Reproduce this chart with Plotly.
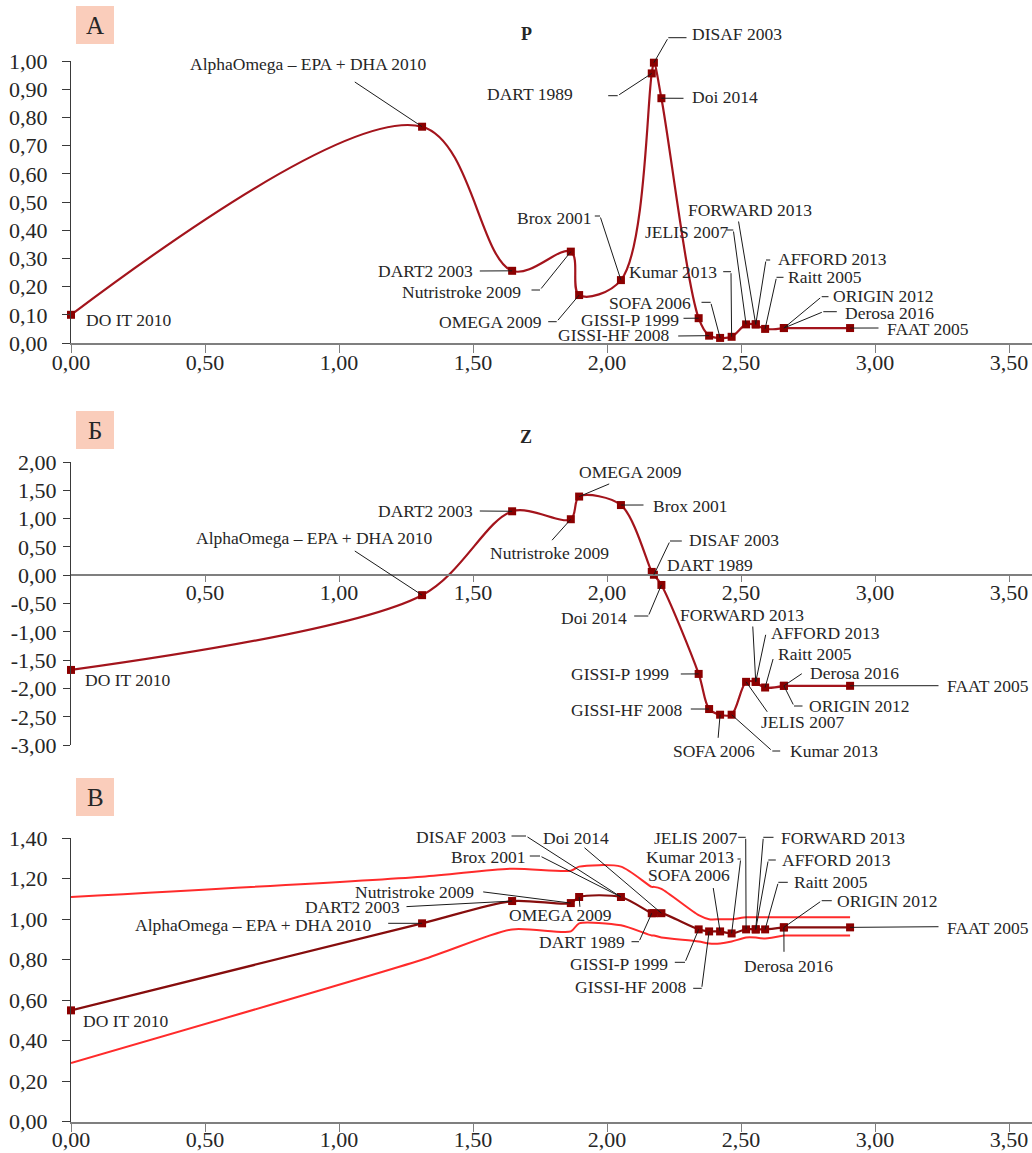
import plotly.graph_objects as go

# ---------------- data ----------------
studies = [
    "DO IT 2010", "AlphaOmega – EPA + DHA 2010", "DART2 2003", "Nutristroke 2009",
    "OMEGA 2009", "Brox 2001", "DART 1989", "DISAF 2003", "Doi 2014", "GISSI-P 1999",
    "GISSI-HF 2008", "SOFA 2006", "Kumar 2013", "JELIS 2007", "FORWARD 2013",
    "AFFORD 2013", "Raitt 2005", "ORIGIN 2012", "Derosa 2016", "FAAT 2005",
]
cum_x = [0.00, 1.31, 1.646, 1.865, 1.896, 2.052, 2.167, 2.175, 2.203, 2.342,
         2.381, 2.422, 2.465, 2.519, 2.555, 2.555, 2.59, 2.66, 2.66, 2.907]
p_values = [0.10, 0.767, 0.256, 0.324, 0.170, 0.223, 0.956, 0.994, 0.868, 0.088,
            0.026, 0.018, 0.022, 0.066, 0.066, 0.066, 0.050, 0.053, 0.053, 0.053]
z_scores = [-1.67, -0.35, 1.13, 0.99, 1.39, 1.24, 0.06, 0.01, -0.17, -1.74,
            -2.36, -2.46, -2.46, -1.88, -1.88, -1.88, -1.98, -1.95, -1.95, -1.95]
rr = [0.55, 0.98, 1.09, 1.08, 1.11, 1.11, 1.03, 1.03, 1.03, 0.95,
      0.94, 0.94, 0.93, 0.95, 0.95, 0.95, 0.95, 0.96, 0.96, 0.96]
rr_upper = [1.11, 1.21, 1.25, 1.24, 1.26, 1.26, 1.16, 1.16, 1.15, 1.02,
            1.00, 1.00, 1.00, 1.01, 1.01, 1.01, 1.01, 1.01, 1.01, 1.01]
rr_lower = [0.29, 0.80, 0.95, 0.94, 0.98, 0.97, 0.92, 0.92, 0.91, 0.89,
            0.88, 0.88, 0.89, 0.91, 0.91, 0.91, 0.905, 0.92, 0.92, 0.92]

x_ticks = [0.0, 0.5, 1.0, 1.5, 2.0, 2.5, 3.0, 3.5]
p_ticks = [0.0, 0.1, 0.2, 0.3, 0.4, 0.5, 0.6, 0.7, 0.8, 0.9, 1.0]
z_ticks = [-3.0, -2.5, -2.0, -1.5, -1.0, -0.5, 0.0, 0.5, 1.0, 1.5, 2.0]
rr_ticks = [0.0, 0.2, 0.4, 0.6, 0.8, 1.0, 1.2, 1.4]


def fmt(v):
    return f"{v:.2f}".replace(".", ",")


# ---------------- page geometry (pixels) ----------------
W, H = 1032, 1153
X0_PX, PX_PER_UNIT = 71.0, 268.0
X_MAX = (W - X0_PX) / PX_PER_UNIT

FONT = "Liberation Serif"
INK = "#262626"
LINE_DARK = "#a3141c"
LINE_RR = "#860d0d"
CI_RED = "#ff2b2b"
MARK = "#8b0000"

# panel key -> (top px, bottom px, range, axis ids)
panels = {
    "P": dict(top=61.0, bot=343.0, rng=(0.0, 1.0), xa="x", ya="y"),
    "Z": dict(top=462.0, bot=745.3, rng=(-3.0, 2.0), xa="x2", ya="y2"),
    "RR": dict(top=838.3, bot=1121.7, rng=(0.0, 1.4), xa="x3", ya="y3"),
}


def px_x(px):
    return (px - X0_PX) / PX_PER_UNIT


def px_y(key, py):
    p = panels[key]
    lo, hi = p["rng"]
    return hi - (py - p["top"]) / (p["bot"] - p["top"]) * (hi - lo)


def paper(px, py):
    return px / W, 1 - py / H


# label placement: (study, text left px, text middle px, leader elbows px, target study)
labels_p = [
    ("DO IT 2010", 84, 320, []),
    ("AlphaOmega – EPA + DHA 2010", 188, 64.3, [(353.3, 81)]),
    ("DART2 2003", 376, 271, [(478.3, 271)]),
    ("Nutristroke 2009", 400, 291.7, [(530, 290), (540, 290)]),
    ("OMEGA 2009", 436.7, 321.7, [(546.7, 321.7), (556.7, 321.7)]),
    ("Brox 2001", 514.5, 218.3, [(593.3, 216), (600, 216)]),
    ("DART 1989", 485.3, 94.3, [(606.7, 95.7), (617.7, 95.7)]),
    ("DISAF 2003", 690, 34.3, [(688, 37.7), (668.3, 37.7)]),
    ("Doi 2014", 690, 96.7, [(685, 98.3)]),
    ("GISSI-P 1999", 579.3, 320, [(682, 318.3)]),
    ("GISSI-HF 2008", 555.7, 335, [(676.7, 336)]),
    ("SOFA 2006", 607.3, 303.3, [(700, 302.3), (710.7, 302.3)]),
    ("Kumar 2013", 626.7, 272.3, [(721.7, 271.7), (731, 271.7)]),
    ("JELIS 2007", 642.7, 232.3, [(725, 230), (733.3, 230)]),
    ("FORWARD 2013", 685.7, 210, [(738.3, 220)]),
    ("AFFORD 2013", 776, 259, [(771.7, 260), (766, 260)]),
    ("Raitt 2005", 785.7, 276.7, [(785, 277.3), (776.5, 277.3)]),
    ("ORIGIN 2012", 830.7, 295.5, [(830, 296.7), (821.7, 296.7)]),
    ("Derosa 2016", 843.3, 312.8, [(838.3, 311.7), (823.3, 311.7)]),
    ("FAAT 2005", 885, 329, [(880, 328)]),
]
labels_z = [
    ("DO IT 2010", 83.3, 680, []),
    ("AlphaOmega – EPA + DHA 2010", 194, 537.7, [(353.3, 550)]),
    ("DART2 2003", 376, 511, [(478.3, 511)]),
    ("Nutristroke 2009", 488.3, 553.3, [(550.7, 541.7)]),
    ("OMEGA 2009", 577.3, 472.3, [(610.7, 483.3)]),
    ("Brox 2001", 650.7, 506, [(645, 505)]),
    ("DISAF 2003", 686.7, 540, [(683.3, 541), (670, 541)]),
    ("DART 1989", 665, 565, []),
    ("Doi 2014", 559.3, 618.3, [(632.7, 616), (648.3, 616)]),
    ("GISSI-P 1999", 569.3, 674, [(679.3, 674)]),
    ("GISSI-HF 2008", 569.3, 710, [(689.3, 709)]),
    ("SOFA 2006", 671, 751, [(718, 739.3)]),
    ("Kumar 2013", 787.7, 751, [(781.7, 751), (772.3, 751)]),
    ("JELIS 2007", 759.3, 721.7, [(768.3, 713.3)]),
    ("FORWARD 2013", 677.7, 615, [(752.7, 625)]),
    ("AFFORD 2013", 769.3, 633.3, [(766, 633.3)]),
    ("Raitt 2005", 776, 654, [(773.5, 657.5)]),
    ("ORIGIN 2012", 806.7, 706, [(804, 706), (794, 706)]),
    ("Derosa 2016", 808.3, 673.3, [(803.3, 672.7)]),
    ("FAAT 2005", 945, 685.7, [(940, 685.7)]),
]
labels_rr = [
    ("DO IT 2010", 81, 1020.7, []),
    ("AlphaOmega – EPA + DHA 2010", 133.3, 925, [(386.7, 923.3)]),
    ("DART2 2003", 303.3, 907.3, [(405, 906.7)]),
    ("Nutristroke 2009", 352.7, 892.3, [(481.7, 891.7)]),
    ("OMEGA 2009", 507, 915, [(580, 908.3)]),
    ("DISAF 2003", 414.3, 836.7, [(510, 836), (526, 836)], "Brox 2001"),
    ("Brox 2001", 449.3, 856.7, [(528.3, 856), (540, 856)]),
    ("Doi 2014", 540.7, 838.3, [(583, 846.5)]),
    ("DART 1989", 537.3, 942.3, [(630, 941.7), (639, 941.7)]),
    ("GISSI-P 1999", 567.7, 964, [(673.3, 962.3), (685, 962.3)]),
    ("GISSI-HF 2008", 573.3, 987.3, [(691.7, 988.3), (701.7, 988.3)]),
    ("SOFA 2006", 646, 874.8, [(713, 886.5)]),
    ("Kumar 2013", 644, 856.8, [(736, 859), (740.7, 859)]),
    ("JELIS 2007", 651.7, 838.3, [(736.7, 837.3), (745.7, 837.3)]),
    ("FORWARD 2013", 779.3, 838.3, [(775, 837.3), (763.3, 837.3)]),
    ("AFFORD 2013", 780, 860, [(777.3, 860), (768.3, 860)]),
    ("Raitt 2005", 792.3, 882.3, [(789.3, 882.3), (778.3, 882.3)]),
    ("ORIGIN 2012", 835, 900.7, [(833.3, 900.7), (821.7, 900.7)]),
    ("Derosa 2016", 742.3, 965.7, [(784, 953.3)]),
    ("FAAT 2005", 945, 927.7, [(940, 926.7)]),
]

fig = go.Figure()

# confidence bounds of the cumulative relative risk
for bound in (rr_upper, rr_lower):
    fig.add_trace(go.Scatter(
        x=cum_x, y=bound, xaxis="x3", yaxis="y3", mode="lines",
        line=dict(color=CI_RED, width=2, shape="spline", smoothing=0.7),
        hoverinfo="skip", cliponaxis=False,
    ))

series = [("P", p_values, LINE_DARK, 1.0), ("Z", z_scores, LINE_DARK, 0.9),
          ("RR", rr, LINE_RR, 0.8)]
for key, vals, col, smooth in series:
    p = panels[key]
    fig.add_trace(go.Scatter(
        x=cum_x, y=vals, xaxis=p["xa"], yaxis=p["ya"], mode="lines+markers",
        line=dict(color=col, width=2.2, shape="spline", smoothing=smooth),
        marker=dict(symbol="square", size=8, color=MARK, line=dict(width=0)),
        text=studies, hoverinfo="text+y", cliponaxis=False,
    ))

annotations = []
shapes = []
values_by_panel = {"P": p_values, "Z": z_scores, "RR": rr}
leader_style = dict(showarrow=True, arrowhead=0, arrowwidth=1, arrowcolor="#1a1a1a",
                    standoff=0, startstandoff=0, text="", font=dict(size=1))

for key, lab_list in (("P", labels_p), ("Z", labels_z), ("RR", labels_rr)):
    p = panels[key]
    vals = values_by_panel[key]
    for item in lab_list:
        name, lx, ly, elbows = item[:4]
        target = item[4] if len(item) > 4 else name
        px_, py_ = paper(lx, ly)
        annotations.append(dict(
            x=px_, y=py_, xref="paper", yref="paper", text=name, showarrow=False,
            xanchor="left", yanchor="middle", font=dict(family=FONT, size=17.5, color=INK),
        ))
        if not elbows:
            continue
        # straight pieces of the leader next to the label
        for (ax_px, ay_px), (hx_px, hy_px) in zip(elbows[:-1], elbows[1:]):
            hx, hy = paper(hx_px, hy_px)
            annotations.append(dict(
                x=hx, y=hy, xref="paper", yref="paper",
                ax=ax_px - hx_px, ay=ay_px - hy_px, axref="pixel", ayref="pixel",
                **leader_style))
        # last piece ends on the study's marker
        i = studies.index(target)
        tx, ty = elbows[-1]
        annotations.append(dict(
            x=cum_x[i], y=vals[i], xref=p["xa"], yref=p["ya"],
            ax=px_x(tx), ay=px_y(key, ty), axref=p["xa"], ayref=p["ya"],
            **leader_style))

# panel letters
for letter, (y0, y1) in (("А", (6, 44)), ("Б", (411, 449)), ("В", (778, 816))):
    shapes.append(dict(type="rect", xref="paper", yref="paper",
                       x0=76 / W, x1=114 / W, y0=1 - y1 / H, y1=1 - y0 / H,
                       fillcolor="#facdbb", line=dict(width=0), layer="below"))
    cx, cy = paper(95, (y0 + y1) / 2)
    annotations.append(dict(x=cx, y=cy, xref="paper", yref="paper", text=letter,
                            showarrow=False, xanchor="center", yanchor="middle",
                            font=dict(family=FONT, size=25, color=INK)))

# panel titles
for title, (tx, ty) in (("P", (526, 34)), ("Z", (526, 437))):
    cx, cy = paper(tx, ty)
    annotations.append(dict(x=cx, y=cy, xref="paper", yref="paper", text=f"<b>{title}</b>",
                            showarrow=False, xanchor="center", yanchor="middle",
                            font=dict(family=FONT, size=18, color=INK)))

tickfont = dict(family=FONT, size=22, color=INK)
x_dom = [X0_PX / W, 1.0]


def ydom(key):
    p = panels[key]
    return [1 - p["bot"] / H, 1 - p["top"] / H]


def xaxis_cfg(vals, **kw):
    cfg = dict(domain=x_dom, range=[0, X_MAX], tickvals=vals, ticktext=[fmt(v) for v in vals],
               ticks="outside", ticklen=8, tickwidth=1, tickcolor="#7f7f7f",
               showline=True, linecolor="#7f7f7f", linewidth=1.6, showgrid=False,
               zeroline=False, tickfont=tickfont, fixedrange=True, automargin=False,
               ticklabelstandoff=-9)
    cfg.update(kw)
    return cfg


def yaxis_cfg(key, vals, **kw):
    cfg = dict(domain=ydom(key), range=list(panels[key]["rng"]), tickvals=vals,
               ticktext=[fmt(v) for v in vals], ticks="outside", ticklen=8, tickwidth=1,
               tickcolor="#3a3a3a", showline=True, linecolor="#3a3a3a", linewidth=1.2,
               showgrid=False, zeroline=False, tickfont=tickfont, fixedrange=True,
               ticklabelstandoff=10, automargin=False)
    cfg.update(kw)
    return cfg


z0_paper = 1 - (panels["Z"]["top"] + (2.0 / 5.0) * (panels["Z"]["bot"] - panels["Z"]["top"])) / H

fig.update_layout(
    width=W, height=H, margin=dict(l=0, r=0, t=0, b=0, autoexpand=False),
    paper_bgcolor="white", plot_bgcolor="white", showlegend=False,
    xaxis=xaxis_cfg(x_ticks, anchor="y"),
    yaxis=yaxis_cfg("P", p_ticks, anchor="x"),
    xaxis2=xaxis_cfg(x_ticks[1:], anchor="free", position=z0_paper, ticklen=6,
                     ticklabelstandoff=-9),
    yaxis2=yaxis_cfg("Z", z_ticks, anchor="x2", ticklen=7, ticklabelstandoff=2),
    xaxis3=xaxis_cfg(x_ticks, anchor="y3", ticklabelstandoff=-11),
    yaxis3=yaxis_cfg("RR", rr_ticks, anchor="x3"),
    annotations=annotations, shapes=shapes,
)

fig.write_html("out.html")
